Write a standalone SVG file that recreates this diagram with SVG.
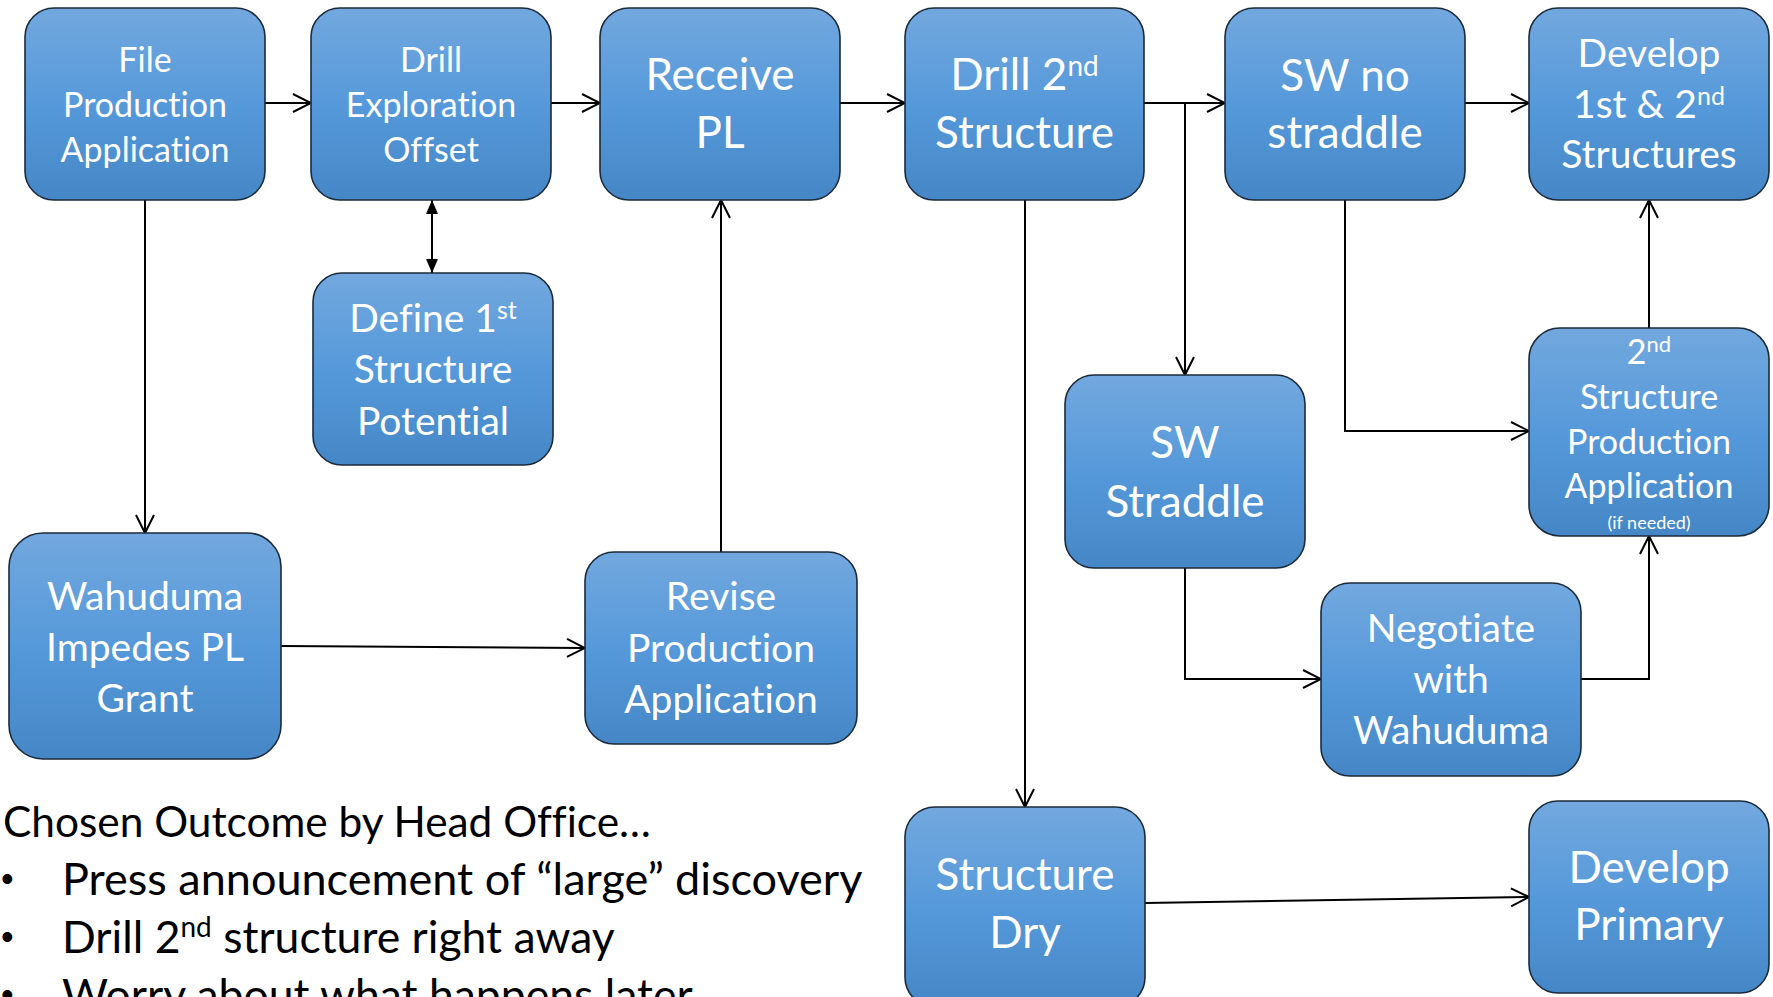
<svg xmlns="http://www.w3.org/2000/svg" width="1773" height="997" viewBox="0 0 1773 997">
<style>
.box{fill:url(#g);stroke:#1c2a3a;stroke-width:1.6}
.t{font-family:Lato,"Open Sans","Liberation Sans",sans-serif;fill:#fff;text-anchor:middle;font-variant-ligatures:none}
.s34{font-size:34px}
.s39{font-size:39px}
.s44{font-size:44px}
.c{fill:none;stroke:#000;stroke-width:2}
.a{marker-end:url(#open)}
.body{font-family:Lato,"Open Sans","Liberation Sans",sans-serif;fill:#000;font-size:44.5px;font-variant-ligatures:none}
.bul{font-family:"Liberation Sans",sans-serif;fill:#000;font-size:36px}
</style>
<defs>
<linearGradient id="g" x1="0" y1="0" x2="0" y2="1">
<stop offset="0" stop-color="#72a8de"/>
<stop offset="0.5" stop-color="#5699da"/>
<stop offset="1" stop-color="#4587c6"/>
</linearGradient>
<marker id="open" viewBox="0 0 20 20" markerWidth="20" markerHeight="20" refX="19" refY="10" orient="auto" markerUnits="userSpaceOnUse">
<path d="M1,1 L19,10 L1,19" fill="none" stroke="#000" stroke-width="2"/>
</marker>
<marker id="solid" viewBox="0 0 14 12" markerWidth="14" markerHeight="12" refX="14" refY="6" orient="auto-start-reverse" markerUnits="userSpaceOnUse">
<path d="M0,0 L14,6 L0,12 z" fill="#000"/>
</marker>
</defs>

<g id="connectors">
<line class="c a" x1="265" y1="103" x2="311" y2="103"/>
<line class="c a" x1="551" y1="103" x2="600" y2="103"/>
<line class="c a" x1="840" y1="103" x2="905" y2="103"/>
<line class="c a" x1="1144" y1="103" x2="1225" y2="103"/>
<polyline class="c a" points="1185,103 1185,375"/>
<line class="c a" x1="1465" y1="103" x2="1529" y2="103"/>
<line class="c" x1="432" y1="200" x2="432" y2="273" marker-start="url(#solid)" marker-end="url(#solid)"/>
<line class="c a" x1="145" y1="200" x2="145" y2="533"/>
<line class="c a" x1="281" y1="646" x2="585" y2="648"/>
<line class="c a" x1="721" y1="552" x2="721" y2="200"/>
<line class="c a" x1="1025" y1="200" x2="1025" y2="807"/>
<polyline class="c a" points="1345,200 1345,431 1529,431"/>
<polyline class="c a" points="1185,568 1185,679 1321,679"/>
<polyline class="c a" points="1581,679 1649,679 1649,536"/>
<line class="c a" x1="1649" y1="328" x2="1649" y2="200"/>
<line class="c a" x1="1145" y1="903" x2="1529" y2="897"/>
</g>

<g id="n1"><rect class="box" x="25" y="8" width="240" height="192" rx="29"/>
<text class="t s34" x="145" y="72">File</text><text class="t s34" x="145" y="117">Production</text><text class="t s34" x="145" y="162">Application</text></g>

<g id="n2"><rect class="box" x="311" y="8" width="240" height="192" rx="29"/>
<text class="t s34" x="431" y="72">Drill</text><text class="t s34" x="431" y="117">Exploration</text><text class="t s34" x="431" y="162">Offset</text></g>

<g id="n3"><rect class="box" x="600" y="8" width="240" height="192" rx="29"/>
<text class="t s44" x="720" y="90">Receive</text><text class="t s44" x="720" y="148">PL</text></g>

<g id="n4"><rect class="box" x="905" y="8" width="239" height="192" rx="29"/>
<text class="t s44" x="1024.5" y="90">Drill 2<tspan dy="-14" font-size="28">nd</tspan></text><text class="t s44" x="1024.5" y="148">Structure</text></g>

<g id="n5"><rect class="box" x="1225" y="8" width="240" height="192" rx="29"/>
<text class="t s44" x="1345" y="91">SW no</text><text class="t s44" x="1345" y="148">straddle</text></g>

<g id="n6"><rect class="box" x="1529" y="8" width="240" height="192" rx="29"/>
<text class="t s39" x="1649" y="67">Develop</text><text class="t s39" x="1649" y="118">1st &amp; 2<tspan dy="-13" font-size="25">nd</tspan></text><text class="t s39" x="1649" y="168">Structures</text></g>

<g id="n7"><rect class="box" x="313" y="273" width="240" height="192" rx="29"/>
<text class="t s39" x="433" y="332">Define 1<tspan dy="-13" font-size="25">st</tspan></text><text class="t s39" x="433" y="383">Structure</text><text class="t s39" x="433" y="435">Potential</text></g>

<g id="n8"><rect class="box" x="9" y="533" width="272" height="226" rx="34"/>
<text class="t s39" x="145" y="610">Wahuduma</text><text class="t s39" x="145" y="661">Impedes PL</text><text class="t s39" x="145" y="712">Grant</text></g>

<g id="n9"><rect class="box" x="585" y="552" width="272" height="192" rx="29"/>
<text class="t s39" x="721" y="610">Revise</text><text class="t s39" x="721" y="662">Production</text><text class="t s39" x="721" y="713">Application</text></g>

<g id="n10"><rect class="box" x="1065" y="375" width="240" height="193" rx="29"/>
<text class="t s44" x="1185" y="458">SW</text><text class="t s44" x="1185" y="517">Straddle</text></g>

<g id="n11"><rect class="box" x="1529" y="328" width="240" height="208" rx="31"/>
<text class="t s34" x="1649" y="364">2<tspan dy="-12" font-size="22">nd</tspan></text><text class="t s34" x="1649" y="409">Structure</text><text class="t s34" x="1649" y="454">Production</text><text class="t s34" x="1649" y="498">Application</text><text class="t" font-size="18" x="1649" y="529">(if needed)</text></g>

<g id="n12"><rect class="box" x="1321" y="583" width="260" height="193" rx="29"/>
<text class="t s39" x="1451" y="642">Negotiate</text><text class="t s39" x="1451" y="693">with</text><text class="t s39" x="1451" y="744">Wahuduma</text></g>

<g id="n13"><rect class="box" x="905" y="807" width="240" height="200" rx="30"/>
<text class="t s44" x="1025" y="890">Structure</text><text class="t s44" x="1025" y="948">Dry</text></g>

<g id="n14"><rect class="box" x="1529" y="801" width="240" height="192" rx="29"/>
<text class="t s44" x="1649" y="883">Develop</text><text class="t s44" x="1649" y="940">Primary</text></g>

<g id="notes">
<text class="body" x="3" y="837" style="font-size:42.4px">Chosen Outcome by Head Office…</text>
<text class="bul" x="1" y="891">•</text><text class="body" x="62" y="895" style="font-size:45px">Press announcement of “large” discovery</text>
<text class="bul" x="1" y="949">•</text><text class="body" x="62" y="953">Drill 2<tspan dy="-16" style="font-size:28px">nd</tspan><tspan dy="16"> structure right away</tspan></text>
<text class="bul" x="1" y="1007">•</text><text class="body" x="62" y="1011">Worry about what happens later</text>
</g>
</svg>
